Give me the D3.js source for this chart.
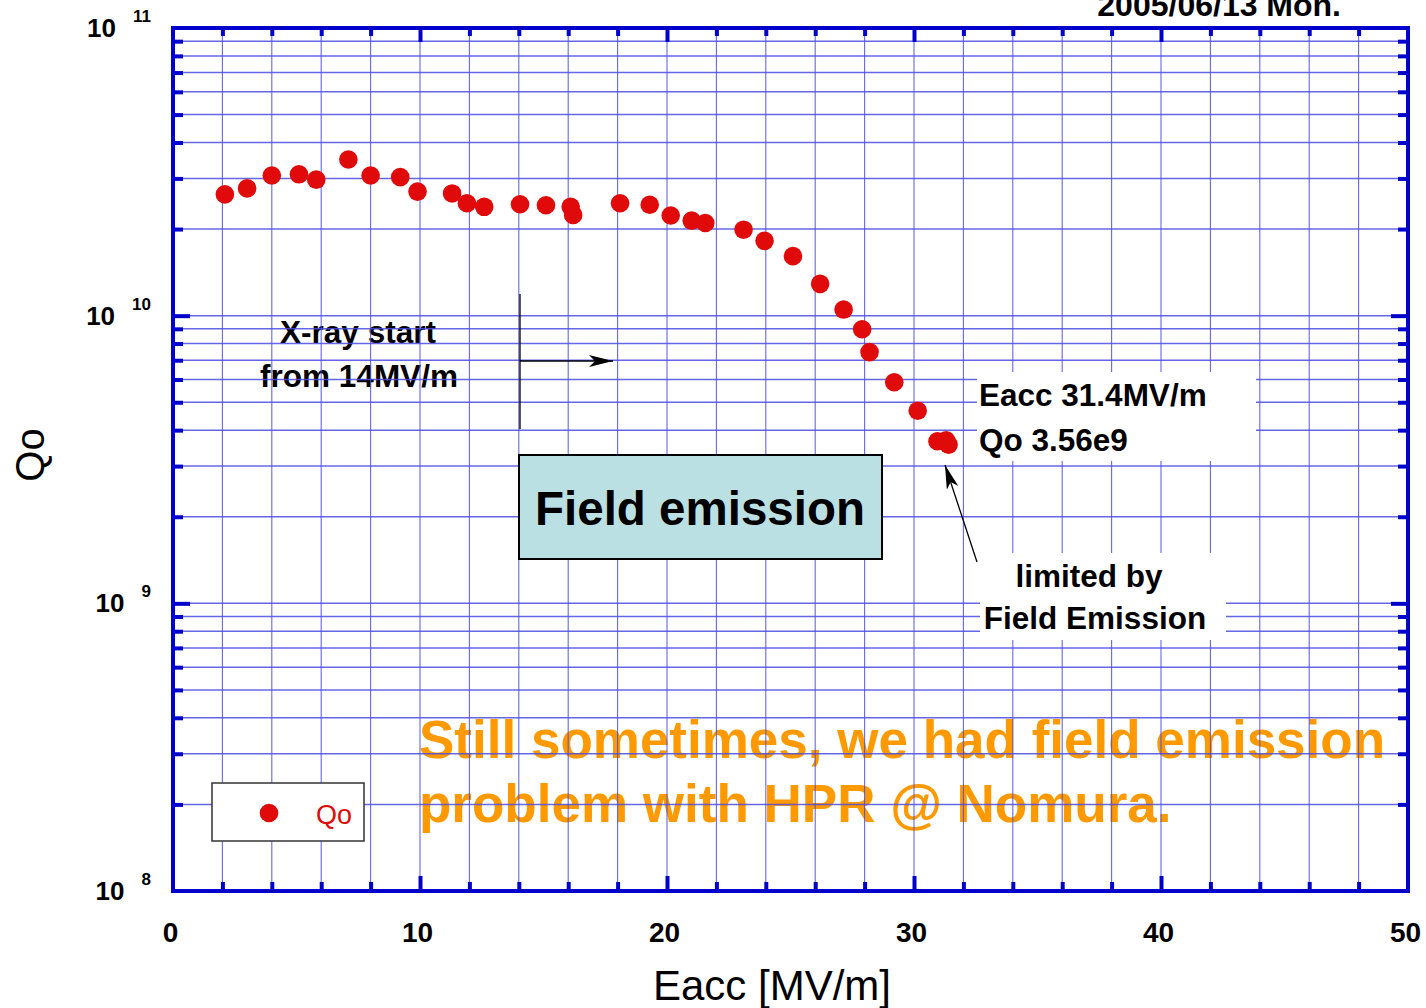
<!DOCTYPE html>
<html>
<head>
<meta charset="utf-8">
<script src="https://cdn.jsdelivr.net/npm/d3@7"></script>
<style>
  html, body { margin: 0; padding: 0; background: #fff; }
  svg { display: block; font-family: "Liberation Sans", Arial, sans-serif; }
</style>
</head>
<body>
<svg id="chart" width="1426" height="1008"></svg>
<script>
// Cavity test: unloaded Q versus accelerating gradient
const eacc = [2.1, 3.0, 4.0, 5.1, 5.8, 7.1, 8.0, 9.2, 9.9, 11.3, 11.9, 12.6,
              14.05, 15.1, 16.1, 16.2, 18.1, 19.3, 20.15, 21.0, 21.55, 23.1,
              23.95, 25.1, 26.2, 27.15, 27.9, 28.2, 29.2, 30.15, 30.95, 31.3, 31.4];
const qo = [2.64e10, 2.77e10, 3.07e10, 3.10e10, 2.97e10, 3.49e10, 3.07e10, 3.03e10,
            2.70e10, 2.66e10, 2.46e10, 2.39e10, 2.44e10, 2.42e10, 2.39e10, 2.24e10,
            2.46e10, 2.43e10, 2.23e10, 2.14e10, 2.10e10, 1.99e10, 1.82e10, 1.61e10,
            1.29e10, 1.05e10, 8.97e9, 7.47e9, 5.87e9, 4.67e9, 3.66e9, 3.69e9, 3.56e9];

const xMajorTicks = [0, 10, 20, 30, 40, 50];
const xMinorTicks = [2, 4, 6, 8, 12, 14, 16, 18, 22, 24, 26, 28, 32, 34, 36, 38, 42, 44, 46, 48];
const yDecades = [1e8, 1e9, 1e10, 1e11];
const yExponents = ["8", "9", "10", "11"];
const yMinorMultipliers = [2, 3, 4, 5, 6, 7, 8, 9];

const svg = d3.select("#chart");
const plotLeft = 173, plotRight = 1408, plotTop = 28, plotBottom = 891;

const x = d3.scaleLinear().domain([0, 50]).range([plotLeft, plotRight]);
const y = d3.scaleLog().domain([1e8, 1e11]).range([plotBottom, plotTop]);

const yMinor = [];
yDecades.slice(0, 3).forEach(d => yMinorMultipliers.forEach(m => yMinor.push(d * m)));

const axisBlue = "#0000cc";
const gridBlue = "#4b4be3";

// Text that sits underneath the grid
const under = svg.append("g");
under.append("text").attr("x", 358).attr("y", 343)
  .attr("text-anchor", "middle").attr("font-weight", "bold").attr("font-size", 31.5)
  .text("X-ray start");
under.append("text").attr("x", 359).attr("y", 387)
  .attr("text-anchor", "middle").attr("font-weight", "bold").attr("font-size", 31.5)
  .text("from 14MV/m");

const note = under.append("g").attr("fill", "#ff9900").attr("font-weight", "bold").attr("font-size", 53);
note.append("text").attr("x", 419).attr("y", 758).text("Still sometimes, we had field emission");
note.append("text").attr("x", 419).attr("y", 822).text("problem with HPR @ Nomura.");

// Grid
const grid = svg.append("g");
grid.selectAll("line.v").data(xMinorTicks.concat([10, 20, 30, 40])).join("line")
  .attr("x1", d => x(d)).attr("x2", d => x(d)).attr("y1", plotTop).attr("y2", plotBottom)
  .attr("stroke", gridBlue).attr("stroke-width", 1.1).attr("stroke-opacity", 0.85);
grid.selectAll("line.h").data(yMinor.concat([1e9, 1e10])).join("line")
  .attr("y1", d => y(d)).attr("y2", d => y(d)).attr("x1", plotLeft).attr("x2", plotRight)
  .attr("stroke", gridBlue).attr("stroke-width", 1.5).attr("stroke-opacity", 0.85);

// Axis ticks pointing inward on all four sides
function tickAxes(axisFn, scale, values, size, transform) {
  svg.append("g").attr("transform", transform)
    .call(axisFn(scale).tickValues(values).tickSize(size).tickFormat(""))
    .call(g => g.select(".domain").remove())
    .call(g => g.selectAll(".tick line").attr("stroke", axisBlue).attr("stroke-width", 4));
}
tickAxes(d3.axisBottom, x, xMinorTicks, -9, `translate(0,${plotBottom})`);
tickAxes(d3.axisBottom, x, xMajorTicks.slice(1, 5), -15, `translate(0,${plotBottom})`);
tickAxes(d3.axisTop, x, xMinorTicks, -8, `translate(0,${plotTop})`);
tickAxes(d3.axisTop, x, xMajorTicks.slice(1, 5), -14, `translate(0,${plotTop})`);
tickAxes(d3.axisLeft, y, yMinor, -10, `translate(${plotLeft},0)`);
tickAxes(d3.axisLeft, y, [1e9, 1e10], -17, `translate(${plotLeft},0)`);
tickAxes(d3.axisRight, y, yMinor, -10, `translate(${plotRight},0)`);
tickAxes(d3.axisRight, y, [1e9, 1e10], -17, `translate(${plotRight},0)`);

// Frame
svg.append("rect").attr("x", plotLeft).attr("y", plotTop)
  .attr("width", plotRight - plotLeft).attr("height", plotBottom - plotTop)
  .attr("fill", "none").attr("stroke", axisBlue).attr("stroke-width", 4);

// X tick labels
const xLabels = svg.append("g").attr("transform", `translate(0,${plotBottom})`)
  .call(d3.axisBottom(x).tickValues(xMajorTicks).tickSize(0).tickPadding(31).tickFormat(d3.format("d")));
xLabels.select(".domain").remove();
xLabels.selectAll("text")
  .attr("font-family", "Liberation Sans, Arial, sans-serif")
  .attr("font-size", 28).attr("font-weight", "bold").attr("fill", "#000")
  .attr("dx", -3);

// Y tick labels as 10 with superscript exponent
const yLab = svg.append("g").attr("font-weight", "bold").attr("fill", "#000");
yDecades.forEach((d, i) => {
  const t = yLab.append("text").attr("x", 151).attr("y", y(d) + 9).attr("text-anchor", "end");
  t.append("tspan").attr("font-size", 26).text("10");
  t.append("tspan").attr("font-size", 17).attr("dx", 17).attr("dy", -15).text(yExponents[i]);
});

// Axis titles
svg.append("text").attr("x", 772).attr("y", 1000).attr("text-anchor", "middle")
  .attr("font-size", 42).text("Eacc [MV/m]");
svg.append("text").attr("transform", "translate(44,455) rotate(-90)")
  .attr("text-anchor", "middle").attr("font-size", 40).text("Qo");

// Date stamp
svg.append("text").attr("x", 1341).attr("y", 16).attr("text-anchor", "end")
  .attr("font-weight", "bold").attr("font-size", 32).text("2005/06/13 Mon.");

// Annotation lines and arrows
const defs = svg.append("defs");
defs.append("marker").attr("id", "head").attr("viewBox", "0 0 24 12")
  .attr("refX", 24).attr("refY", 6).attr("markerWidth", 24).attr("markerHeight", 12)
  .attr("markerUnits", "userSpaceOnUse").attr("orient", "auto")
  .append("path").attr("d", "M0,0 L24,6 L0,12 L6,6 Z").attr("fill", "#000");

svg.append("line").attr("x1", 520).attr("x2", 520).attr("y1", 294).attr("y2", 429)
  .attr("stroke", "#000").attr("stroke-width", 1.3);
svg.append("line").attr("x1", 520).attr("x2", 613).attr("y1", 361).attr("y2", 361)
  .attr("stroke", "#000").attr("stroke-width", 1.3).attr("marker-end", "url(#head)");

// Field emission box
svg.append("rect").attr("x", 519).attr("y", 455).attr("width", 363).attr("height", 104)
  .attr("fill", "#bbe0e3").attr("stroke", "#000").attr("stroke-width", 2);
svg.append("text").attr("x", 700).attr("y", 525).attr("text-anchor", "middle")
  .attr("font-weight", "bold").attr("font-size", 47.5).text("Field emission");

// Labels with white backgrounds
svg.append("rect").attr("x", 977).attr("y", 372).attr("width", 279).attr("height", 89).attr("fill", "#fff");
svg.append("rect").attr("x", 980).attr("y", 553).attr("width", 246).attr("height", 87).attr("fill", "#fff");
const lbl = svg.append("g").attr("font-weight", "bold").attr("font-size", 31.5).attr("fill", "#000");
lbl.append("text").attr("x", 979).attr("y", 406).text("Eacc 31.4MV/m");
lbl.append("text").attr("x", 979).attr("y", 451).text("Qo 3.56e9");
lbl.append("text").attr("x", 1089).attr("y", 587).attr("text-anchor", "middle").text("limited by");
lbl.append("text").attr("x", 1095).attr("y", 629).attr("text-anchor", "middle").text("Field Emission");

svg.append("line").attr("x1", 977).attr("y1", 562).attr("x2", 945).attr("y2", 465)
  .attr("stroke", "#000").attr("stroke-width", 1.3).attr("marker-end", "url(#head)");

// Data points
svg.append("g").selectAll("circle").data(eacc.map((e, i) => [e, qo[i]])).join("circle")
  .attr("cx", d => x(d[0])).attr("cy", d => y(d[1])).attr("r", 9.3)
  .attr("fill", "#e00a0a");

// Legend
svg.append("rect").attr("x", 212).attr("y", 783).attr("width", 152).attr("height", 58)
  .attr("fill", "#fff").attr("stroke", "#333").attr("stroke-width", 1.5);
svg.append("circle").attr("cx", 269).attr("cy", 813).attr("r", 9.3).attr("fill", "#e00a0a");
svg.append("text").attr("x", 316).attr("y", 824).attr("font-size", 27).attr("fill", "#e00a0a").text("Qo");
</script>
</body>
</html>
